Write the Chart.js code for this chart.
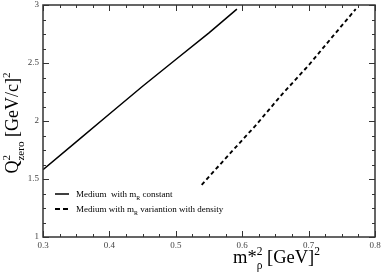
<!DOCTYPE html>
<html><head><meta charset="utf-8">
<script src="https://cdn.jsdelivr.net/npm/chart.js@4"></script>
<style>html,body{margin:0;padding:0;background:#fff}#wrap{width:382px;height:277px;position:relative}</style>
</head><body><div id="wrap"><canvas id="c"></canvas></div>
<script>
// ---- data ----
const xTickLabels = ['0.3','0.4','0.5','0.6','0.7','0.8'];
const yTickLabels = ['1','1.5','2','2.5','3'];
const constX = [0.30, 0.35, 0.40, 0.45, 0.50, 0.55, 0.592];
const constY = [1.58, 1.82, 2.06, 2.30, 2.53, 2.76, 2.965];
const varX   = [0.539, 0.58, 0.62, 0.66, 0.70, 0.735, 0.771];
const varY   = [1.45, 1.71, 1.96, 2.23, 2.48, 2.72, 2.965];
const legendConst = [['Medium  with m',''],['R','sub'],[' constant','']];
const legendVar   = [['Medium with m',''],['R','sub'],[' variantion with density','']];

const SERIF = '"Liberation Serif","Times New Roman",serif';
const xTickVals = xTickLabels.map(Number);
const yTickVals = yTickLabels.map(Number);

function pts(xs, ys){ return xs.map((x,i)=>({x:x, y:ys[i]})); }

// groups of segments; items in one group share the same x
function richWidth(ctx, groups, size){
  let w = 0;
  for (const g of groups){
    let m = 0;
    for (const s of g){ ctx.font = (size*(s.r||1)) + 'px ' + SERIF; m = Math.max(m, ctx.measureText(s.t).width); }
    w += m;
  }
  return w;
}
function drawRich(ctx, groups, x, y, size){
  let cx = x;
  ctx.textBaseline = 'alphabetic'; ctx.textAlign = 'left';
  for (const g of groups){
    let m = 0;
    for (const s of g){
      ctx.font = (size*(s.r||1)) + 'px ' + SERIF;
      ctx.fillText(s.t, cx, y + (s.dy||0)*size);
      m = Math.max(m, ctx.measureText(s.t).width);
    }
    cx += m;
  }
}

const decor = {
  id: 'decor',
  afterDraw(chart){
    const ctx = chart.ctx, a = chart.chartArea;
    const xs = chart.scales.x, ys = chart.scales.y;
    ctx.save();
    // frame
    ctx.strokeStyle = '#333'; ctx.lineWidth = 1.5;
    ctx.strokeRect(a.left, a.top, a.right - a.left, a.bottom - a.top);
    // ticks
    ctx.lineWidth = 1;
    ctx.beginPath();
    const xt = (v, len) => { const p = Math.round(xs.getPixelForValue(v)) + 0.5;
      ctx.moveTo(p, a.bottom); ctx.lineTo(p, a.bottom - len);
      ctx.moveTo(p, a.top); ctx.lineTo(p, a.top + len); };
    const yt = (v, len) => { const p = Math.round(ys.getPixelForValue(v)) + 0.5;
      ctx.moveTo(a.left, p); ctx.lineTo(a.left + len, p);
      ctx.moveTo(a.right, p); ctx.lineTo(a.right - len, p); };
    xTickVals.forEach((v,i)=>{ xt(v, 6); if (i < xTickVals.length-1){ const st=(xTickVals[i+1]-v)/4; for(let k=1;k<4;k++) xt(v+st*k, 3);} });
    yTickVals.forEach((v,i)=>{ yt(v, 6); if (i < yTickVals.length-1){ const st=(yTickVals[i+1]-v)/4; for(let k=1;k<4;k++) yt(v+st*k, 3);} });
    ctx.stroke();

    // legend
    ctx.fillStyle = '#000'; ctx.strokeStyle = '#000';
    const leg = [[legendConst, [], 1.5], [legendVar, [5,3], 1.9]];
    leg.forEach(([parts, dash, lw], i) => {
      const ly = a.top + 189 + i*15;
      ctx.lineWidth = lw;
      ctx.setLineDash(dash);
      ctx.beginPath(); ctx.moveTo(a.left + 12, ly); ctx.lineTo(a.left + 26, ly); ctx.stroke();
      ctx.setLineDash([]);
      const groups = parts.map(([t,k]) => [k==='sub' ? {t:t, r:0.65, dy:0.3} : {t:t}]);
      drawRich(ctx, groups, a.left + 33, ly + 3, 9);
    });

    // x title
    const xg = [[{t:'m*'}],[{t:'2',r:0.62,dy:-0.45},{t:'\u03C1',r:0.62,dy:0.32}],[{t:' [GeV]'}],[{t:'2',r:0.62,dy:-0.45}]];
    drawRich(ctx, xg, 233, 263, 18.5);
    // y title
    const yg = [[{t:'Q'}],[{t:'2',r:0.62,dy:-0.45},{t:'zero',r:0.62,dy:0.32}],[{t:' [GeV/c]'}],[{t:'2',r:0.62,dy:-0.45}]];
    const yw = richWidth(ctx, yg, 18);
    ctx.translate(18, (a.top + a.bottom)/2 + yw/2 + 2);
    ctx.rotate(-Math.PI/2);
    drawRich(ctx, yg, 0, 0, 18);
    ctx.restore();
  }
};

new Chart(document.getElementById('c'), {
  type: 'scatter',
  data: { datasets: [
    { data: pts(constX, constY), showLine: true, borderColor: '#000', borderWidth: 1.5, pointRadius: 0, fill: false, tension: 0 },
    { data: pts(varX, varY), showLine: true, borderColor: '#000', borderWidth: 1.9, borderDash: [4,3], pointRadius: 0, fill: false, tension: 0 }
  ]},
  options: {
    responsive: true, maintainAspectRatio: false, animation: false,
    layout: { padding: { top: 5, right: 7, left: 0, bottom: 0 } },
    plugins: { legend: { display: false }, tooltip: { enabled: false } },
    scales: {
      x: { type: 'linear', min: 0.3, max: 0.8,
        afterBuildTicks: s => { s.ticks = xTickVals.map(v => ({value: v})); },
        afterFit: s => { s.height = 40; s.paddingLeft = 0; s.paddingRight = 0; },
        grid: { display: false, drawTicks: false }, border: { display: false },
        ticks: { padding: 3, color: '#444', font: { family: SERIF, size: 9 }, maxRotation: 0, autoSkip: false,
          callback: (v) => xTickLabels[xTickVals.indexOf(v)] ?? '' } },
      y: { type: 'linear', min: 1, max: 3,
        afterBuildTicks: s => { s.ticks = yTickVals.map(v => ({value: v})); },
        afterFit: s => { s.width = 43; s.paddingTop = 0; s.paddingBottom = 0; },
        grid: { display: false, drawTicks: false }, border: { display: false },
        ticks: { padding: 4, color: '#444', font: { family: SERIF, size: 9 }, autoSkip: false,
          callback: (v) => yTickLabels[yTickVals.indexOf(v)] ?? '' } }
    }
  },
  plugins: [decor]
});
</script></body></html>
